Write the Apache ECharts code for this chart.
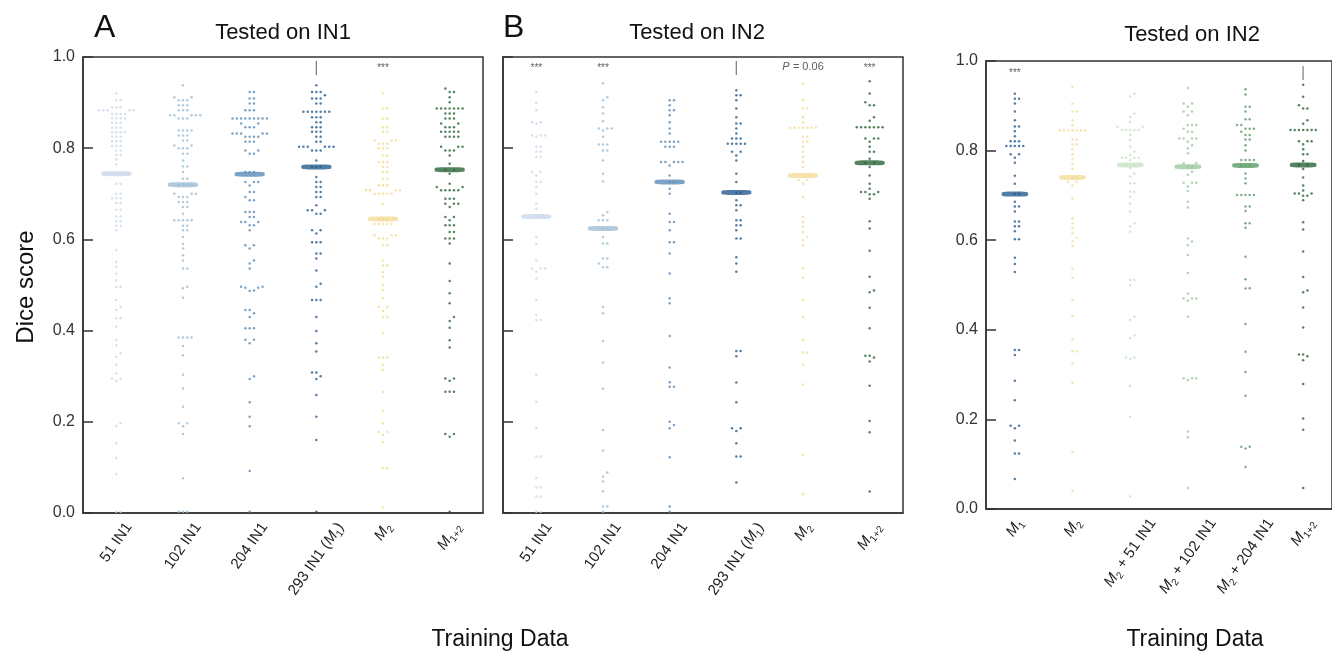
<!DOCTYPE html>
<html>
<head>
<meta charset="utf-8">
<script src="https://cdn.jsdelivr.net/npm/echarts@6/dist/echarts.min.js"></script>
<style>
  html, body { margin: 0; padding: 0; background: #fff; }
  #main { width: 1332px; height: 657px; }
</style>
</head>
<body>
<div id="main"></div>
<script>
// 类别
var catsAB = ['51 IN1', '102 IN1', '204 IN1', '293 IN1 (M₁)', 'M₂', 'M₁₊₂'];
var catsC = ['M₁', 'M₂', 'M₂ + 51 IN1', 'M₂ + 102 IN1', 'M₂ + 204 IN1', 'M₁₊₂'];

// 中位数
var medA = [0.744, 0.72, 0.743, 0.759, 0.645, 0.753];
var medB = [0.65, 0.624, 0.726, 0.703, 0.74, 0.768];
var medC = [0.703, 0.74, 0.768, 0.764, 0.767, 0.768];

// 显著性标注
var annA = ['', '', '', '|', '***', ''];
var annB = ['***', '***', '', '|', 'P = 0.06', '***'];
var annC = ['***', '', '', '', '', '|'];

// Tested on IN1
var a51 = [.92, .905, .905, .89, .89, .89, .883, .883, .883, .883, .883, .875, .875, .875, .875, .865, .865, .865, .865, .855, .855, .855, .845, .845, .845, .835, .835, .835, .835, .825, .825, .825, .815, .815, .815, .805, .805, .805, .795, .795, .785, .785, .775, .765, .745, .745, .745, .745, .745, .745, .722, .722, .70, .70, .69, .69, .69, .68, .68, .665, .665, .65, .65, .64, .64, .63, .63, .62, .576, .55, .54, .525, .51, .496, .495, .467, .452, .445, .427, .427, .409, .38, .368, .35, .342, .325, .306, .295, .295, .29, .197, .19, .153, .121, .085, .003, .003];
var a102 = [.938, .912, .912, .905, .905, .905, .894, .894, .894, .883, .883, .883, .872, .872, .872, .872, .872, .865, .865, .865, .839, .839, .839, .839, .828, .828, .828, .817, .817, .806, .806, .8, .8, .8, .788, .788, .773, .76, .76, .748, .733, .733, .72, .72, .72, .72, .70, .70, .70, .693, .693, .693, .682, .682, .682, .671, .671, .656, .642, .642, .642, .642, .642, .63, .63, .62, .62, .605, .59, .58, .565, .554, .536, .536, .496, .493, .472, .385, .385, .385, .385, .366, .346, .303, .273, .233, .197, .197, .19, .173, .076, .003, .003, .003];
var a204 = [.923, .923, .909, .909, .898, .898, .883, .883, .883, .865, .865, .865, .865, .865, .865, .865, .865, .865, .854, .854, .846, .846, .846, .832, .832, .832, .832, .832, .825, .825, .825, .825, .814, .814, .814, .795, .795, .788, .788, .748, .748, .748, .726, .726, .726, .718, .704, .704, .693, .686, .686, .66, .66, .66, .649, .649, .638, .638, .638, .631, .631, .62, .587, .587, .58, .554, .547, .536, .496, .496, .488, .494, .494, .487, .445, .445, .438, .43, .405, .405, .405, .38, .38, .372, .30, .294, .243, .211, .19, .092, .003];
var a293 = [.938, .923, .923, .923, .916, .909, .909, .909, .898, .898, .88, .88, .88, .88, .88, .88, .88, .868, .868, .868, .857, .857, .846, .846, .846, .836, .836, .836, .825, .825, .814, .814, .803, .803, .803, .803, .803, .803, .795, .795, .795, .773, .759, .759, .759, .737, .726, .726, .715, .715, .704, .704, .693, .693, .675, .664, .664, .664, .656, .656, .62, .62, .613, .594, .594, .594, .569, .569, .558, .532, .503, .496, .467, .467, .467, .43, .399, .372, .354, .308, .308, .30, .294, .259, .211, .16, .003];
var aM2 = [.92, .887, .887, .865, .865, .846, .846, .836, .836, .817, .817, .817, .81, .81, .81, .80, .80, .80, .784, .784, .77, .77, .77, .759, .759, .748, .748, .733, .733, .719, .719, .719, .708, .708, .708, .708, .70, .70, .70, .70, .70, .678, .645, .645, .645, .634, .634, .634, .634, .634, .609, .609, .609, .602, .602, .602, .587, .587, .554, .543, .543, .528, .518, .50, .489, .471, .452, .452, .443, .43, .43, .394, .341, .341, .341, .325, .314, .266, .224, .197, .178, .178, .171, .155, .098, .098, .012];
var aM12 = [.931, .923, .923, .912, .901, .887, .887, .887, .887, .887, .887, .887, .876, .876, .876, .865, .865, .865, .854, .854, .846, .846, .846, .836, .836, .836, .836, .836, .825, .825, .825, .825, .803, .803, .803, .795, .795, .795, .784, .766, .753, .753, .744, .722, .715, .715, .708, .708, .708, .708, .708, .689, .689, .689, .678, .678, .678, .671, .649, .649, .642, .631, .631, .631, .616, .616, .602, .602, .602, .591, .547, .509, .482, .46, .43, .421, .406, .379, .363, .295, .295, .29, .266, .266, .266, .173, .173, .167, .003];

// Tested on IN2
var b51 = [.923, .899, .883, .857, .857, .854, .828, .828, .828, .825, .803, .803, .792, .792, .781, .781, .748, .748, .74, .726, .726, .715, .70, .678, .667, .65, .65, .605, .59, .554, .536, .536, .536, .529, .514, .467, .434, .423, .423, .303, .244, .186, .124, .124, .077, .056, .056, .036, .036, .003, .003];
var b102 = [.942, .912, .905, .89, .876, .859, .843, .843, .843, .839, .825, .808, .808, .808, .795, .795, .773, .744, .727, .66, .653, .642, .642, .642, .624, .624, .605, .591, .591, .558, .558, .547, .539, .539, .452, .438, .377, .33, .273, .182, .137, .089, .08, .069, .047, .014, .014, .003];
var b204 = [.905, .905, .894, .883, .883, .872, .857, .843, .832, .814, .814, .814, .814, .814, .803, .803, .803, .77, .77, .77, .77, .77, .762, .74, .726, .726, .711, .70, .656, .638, .638, .62, .594, .594, .569, .525, .471, .46, .388, .319, .287, .277, .277, .20, .193, .186, .122, .014, .003];
var bM1 = [.927, .916, .916, .905, .887, .868, .854, .854, .843, .832, .821, .821, .821, .81, .81, .81, .81, .81, .792, .792, .784, .773, .744, .726, .703, .703, .686, .675, .675, .664, .642, .642, .631, .631, .62, .602, .602, .561, .547, .529, .355, .355, .344, .286, .243, .186, .186, .18, .153, .124, .124, .067];
var bM2 = [.942, .905, .887, .887, .868, .857, .845, .845, .845, .845, .845, .845, .845, .825, .825, .814, .814, .803, .792, .781, .77, .759, .74, .74, .73, .73, .722, .693, .649, .638, .627, .616, .605, .598, .587, .536, .516, .467, .43, .379, .352, .352, .325, .282, .127, .041];
var bM12 = [.947, .92, .901, .894, .894, .868, .86, .846, .846, .846, .846, .846, .846, .846, .821, .821, .821, .814, .803, .792, .792, .777, .768, .768, .759, .74, .722, .711, .704, .704, .704, .699, .699, .689, .64, .624, .575, .518, .488, .484, .45, .405, .345, .345, .341, .332, .279, .202, .177, .047];
var cM2p51 = [.927, .921, .883, .875, .864, .853, .853, .846, .846, .846, .846, .846, .835, .824, .809, .798, .79, .784, .784, .784, .784, .779, .768, .768, .761, .749, .742, .727, .727, .708, .708, .697, .682, .664, .638, .631, .619, .511, .511, .50, .429, .422, .387, .381, .338, .338, .335, .275, .206, .028];
var cM2p102 = [.94, .905, .905, .898, .887, .887, .879, .857, .857, .857, .849, .842, .842, .827, .827, .827, .827, .82, .812, .805, .794, .772, .772, .764, .764, .753, .746, .728, .728, .728, .72, .71, .686, .673, .604, .597, .589, .567, .527, .481, .47, .47, .47, .465, .429, .292, .292, .292, .288, .173, .16, .047];
var cM2p204 = [.937, .925, .898, .898, .887, .87, .87, .857, .857, .849, .849, .849, .842, .835, .835, .825, .825, .812, .80, .779, .779, .779, .779, .767, .767, .767, .749, .738, .727, .701, .701, .701, .701, .701, .675, .675, .665, .638, .638, .628, .563, .513, .492, .493, .413, .351, .306, .253, .139, .139, .135, .094];

// 颜色
var colAB = ['#c9d8e9', '#9dbdd5', '#5b8cb6', '#265b8c', '#f3dc96', '#2b6438'];
var colC = ['#265b8c', '#f3dc96', '#c8e2c4', '#9dc89c', '#5d9b69', '#2b6438'];

var FONT = '"Liberation Sans", Arial, sans-serif';
var LABEL_SIZE = 15;
var LABEL_ROT = 55;

var panels = [
  {left: 83, top: 57, width: 400, height: 456, cats: catsAB, groups: [a51, a102, a204, a293, aM2, aM12],
   med: medA, ann: annA, colors: colAB, labels: true, annY: [0.976, 0.978]},
  {left: 503, top: 57, width: 400, height: 456, cats: catsAB, groups: [b51, b102, b204, bM1, bM2, bM12],
   med: medB, ann: annB, colors: colAB, labels: false, annY: [0.976, 0.978]},
  {left: 986, top: 61, width: 353, height: 448, cats: catsC, groups: [bM1, bM2, cM2p51, cM2p102, cM2p204, bM12],
   med: medC, ann: annC, colors: colC, labels: true, annY: [0.973, 0.977]}
];

// 蜂群图布局（像素空间内避免重叠）
function swarm(vals, pxY, pxX, d) {
  var order = vals.map(function (v, i) { return i; }).sort(function (a, b) { return vals[a] - vals[b]; });
  var placed = [];
  var out = new Array(vals.length);
  order.forEach(function (i) {
    var y = vals[i] * pxY;
    var x = 0;
    for (var k = 0; k < 80; k++) {
      x = (k % 2 ? 1 : -1) * Math.ceil(k / 2) * d;
      var ok = true;
      for (var j = 0; j < placed.length; j++) {
        var p = placed[j];
        if (Math.abs(p[1] - y) < d && (p[0] - x) * (p[0] - x) + (p[1] - y) * (p[1] - y) < d * d * 0.95) { ok = false; break; }
      }
      if (ok) break;
    }
    placed.push([x, y]);
    out[i] = [x / pxX, vals[i]];
  });
  return out;
}

// M 斜体 + 下标
function fmtCat(v) {
  return v.replace('M₁₊₂', '{i|M}{s|1+2}').replace('M₁', '{i|M}{s|1}').replace(/M₂/g, '{i|M}{s|2}');
}

var grids = [], xAxes = [], yAxes = [], series = [];

panels.forEach(function (p, g) {
  grids.push({left: p.left, top: p.top, width: p.width, height: p.height,
    show: true, borderColor: '#333', borderWidth: 1.5});
  xAxes.push({
    gridIndex: g, type: 'category', data: p.cats, boundaryGap: true,
    axisTick: {show: false},
    axisLine: {onZero: false, lineStyle: {color: '#333', width: 1.5}},
    axisLabel: {show: false}
  });
  yAxes.push({
    gridIndex: g, type: 'value', min: 0, max: 1, interval: 0.2,
    axisLine: {show: true, onZero: false, lineStyle: {color: '#333', width: 1.5}},
    axisTick: {show: true, inside: true, length: 10, lineStyle: {color: '#333', width: 1.5}},
    axisLabel: {show: p.labels, fontSize: 16, color: '#333', fontFamily: FONT, margin: 8,
      formatter: function (v) { return v.toFixed(1); }},
    splitLine: {show: false}
  });
});
// 隐藏的数值 x 轴，用于散点偏移
panels.forEach(function (p, g) {
  xAxes.push({gridIndex: g, type: 'value', min: -0.5, max: 5.5, show: false});
});

panels.forEach(function (p, g) {
  var pxX = p.width / 6;
  p.groups.forEach(function (vals, i) {
    var pts = swarm(vals, p.height, pxX, 4.3).map(function (q) { return [i + q[0], q[1]]; });
    series.push({
      type: 'scatter', xAxisIndex: 3 + g, yAxisIndex: g, data: pts,
      symbolSize: 2.5, silent: true, z: 2,
      itemStyle: {color: p.colors[i], opacity: 0.8}
    });
  });
  // 中位数横线
  series.push({
    type: 'scatter', xAxisIndex: 3 + g, yAxisIndex: g, silent: true, z: 5,
    symbol: 'roundRect', symbolSize: [pxX * 0.45, 5],
    data: p.med.map(function (m, i) { return {value: [i, m], itemStyle: {color: p.colors[i]}}; })
  });
  // 显著性标注
  series.push({
    type: 'scatter', xAxisIndex: 3 + g, yAxisIndex: g, silent: true, z: 6,
    symbolSize: 0,
    data: p.ann.map(function (a, i) {
      return {value: [i, a.charAt(0) === 'P' ? p.annY[1] : p.annY[0]], name: a};
    }).filter(function (d) { return d.name; }),
    label: {
      show: true, position: 'inside', color: '#333', fontFamily: FONT,
      formatter: function (d) {
        if (d.name === '|') return '{bar||}';
        if (d.name.charAt(0) === 'P') return '{ip|P} {t|= 0.06}';
        return '{st|***}';
      },
      rich: {
        bar: {fontSize: 14, color: '#555', fontFamily: FONT},
        ip: {fontSize: 11, fontStyle: 'italic', color: '#333', fontFamily: FONT},
        t: {fontSize: 11, color: '#333', fontFamily: FONT},
        st: {fontSize: 10, color: '#333', fontFamily: FONT}
      }
    }
  });
});

var myChart = echarts.init(document.getElementById('main'));
var option = {
  animation: false,
  backgroundColor: '#fff',
  grid: grids,
  xAxis: xAxes,
  yAxis: yAxes,
  series: series
};
myChart.setOption(option);

// 标题与轴名
var graphics = [
  {type: 'text', left: 94, top: 12, style: {text: 'A', font: '32px ' + FONT, fill: '#111'}},
  {type: 'text', x: 283, y: 33, style: {text: 'Tested on IN1', font: '22px ' + FONT, fill: '#111', align: 'center', verticalAlign: 'middle'}},
  {type: 'text', left: 503, top: 12, style: {text: 'B', font: '32px ' + FONT, fill: '#111'}},
  {type: 'text', x: 697, y: 33, style: {text: 'Tested on IN2', font: '22px ' + FONT, fill: '#111', align: 'center', verticalAlign: 'middle'}},
  {type: 'text', x: 1192, y: 35, style: {text: 'Tested on IN2', font: '22px ' + FONT, fill: '#111', align: 'center', verticalAlign: 'middle'}},
  {type: 'text', x: 26, y: 287, rotation: Math.PI / 2, style: {text: 'Dice score', font: '24px ' + FONT, fill: '#111', align: 'center', verticalAlign: 'middle'}},
  {type: 'text', x: 500, y: 640, style: {text: 'Training Data', font: '23px ' + FONT, fill: '#111', align: 'center', verticalAlign: 'middle'}},
  {type: 'text', x: 1195, y: 640, style: {text: 'Training Data', font: '23px ' + FONT, fill: '#111', align: 'center', verticalAlign: 'middle'}}
];

// x 轴标签：仿 matplotlib 旋转后居中对齐
var ctx = document.createElement('canvas').getContext('2d');
ctx.font = LABEL_SIZE + 'px ' + FONT;
var th = LABEL_ROT * Math.PI / 180;
panels.forEach(function (p, g) {
  var y0 = myChart.convertToPixel({yAxisIndex: g}, 0);
  p.cats.forEach(function (c, i) {
    var x0 = myChart.convertToPixel({xAxisIndex: 3 + g}, i);
    var L = ctx.measureText(c).width;
    graphics.push({
      type: 'text', x: x0 + L * Math.cos(th) / 2, y: y0 + 7 + LABEL_SIZE / 2 * Math.cos(th),
      rotation: th, silent: true,
      style: {text: fmtCat(c), font: LABEL_SIZE + 'px ' + FONT, fill: '#222', align: 'right', verticalAlign: 'middle',
        rich: {
          i: {fontStyle: 'italic', fontSize: LABEL_SIZE, fontFamily: FONT, fill: '#222', lineHeight: 20, verticalAlign: 'middle'},
          s: {fontSize: 10, fontFamily: FONT, fill: '#222', lineHeight: 20, verticalAlign: 'bottom'}
        }}
    });
  });
});
myChart.setOption({graphic: graphics});

window.addEventListener('resize', function () {
  myChart.resize();
});
</script>
</body>
</html>
